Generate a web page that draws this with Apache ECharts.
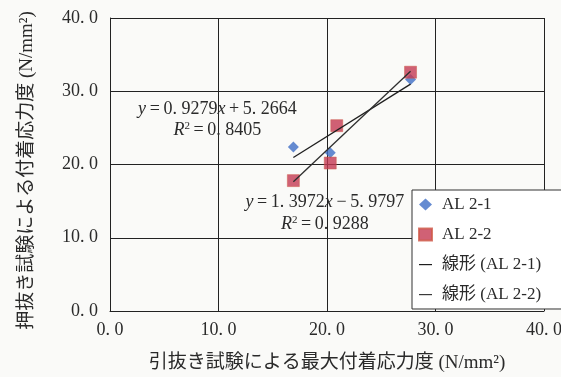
<!DOCTYPE html>
<html>
<head>
<meta charset="utf-8">
<script src="https://cdn.jsdelivr.net/npm/echarts@6/dist/echarts.min.js"></script>
<style>
  html, body { margin: 0; padding: 0; background: #fafaf8; }
  #chart { width: 561px; height: 377px; }
</style>
</head>
<body>
<div id="chart"></div>
<script>
// Pull-out test max bond stress (x) vs push-out test bond stress (y), N/mm²
const seriesNames = ['AL 2-1', 'AL 2-2', '線形 (AL 2-1)', '線形 (AL 2-2)'];
const al21X = [16.9, 20.3, 27.7];
const al21Y = [22.4, 21.6, 31.6];
const al22X = [16.9, 20.3, 20.9, 27.7];
const al22Y = [17.8, 20.2, 25.3, 32.6];
// Linear fits: slope, intercept, R²
const fit1 = { a: 0.9279, b: 5.2664, r2: '0. 8405', aText: '0. 9279', bText: '5. 2664', op: '+' };
const fit2 = { a: 1.3972, b: -5.9797, r2: '0. 9288', aText: '1. 3972', bText: '5. 9797', op: '−' };

const SERIF = '"Liberation Serif", "DejaVu Serif", "Noto Sans CJK JP", serif';
const TEXT = '#2a2a2a';
const HS = '\u2009';

function pairs(xs, ys) { return xs.map((x, i) => [x, ys[i]]); }
function fitLine(xs, f) {
  const lo = Math.min(...xs), hi = Math.max(...xs);
  return [[lo, f.a * lo + f.b], [hi, f.a * hi + f.b]];
}
function fmt(v) { return v.toFixed(1).replace('.', '. '); }

const chart = echarts.init(document.getElementById('chart'), null, { renderer: 'canvas' });

const eqRich = {
  i: { fontFamily: SERIF, fontStyle: 'italic', fontSize: 18, fill: TEXT },
  n: { fontFamily: SERIF, fontSize: 18, fill: TEXT },
  s: { fontFamily: SERIF, fontSize: 11, fill: TEXT, verticalAlign: 'top', padding: [0, 0, 8, 0] }
};
function eqText(f) {
  return '{i|y}{n|' + HS + '=' + HS + f.aText + '}{i|x}{n|' + HS + f.op + HS + f.bText + '}';
}
function r2Text(f) {
  return '{i|R}{s|2}{n|' + HS + '=' + HS + f.r2 + '}';
}

// Legend icon for fit lines: a thin dash inside a square box
const dashIcon = 'path://M0,0M13,12M0,5.5H13V6.7H0Z';

chart.setOption({
  backgroundColor: '#fafaf8',
  animation: false,
  grid: { left: 110, right: 17, top: 18, bottom: 66, outerBoundsMode: 'none', containLabel: false },
  xAxis: {
    type: 'value', min: 0, max: 40, interval: 10,
    name: '引抜き試験による最大付着応力度 (N/mm²)',
    nameLocation: 'middle', nameGap: 43,
    nameTextStyle: { fontFamily: SERIF, fontSize: 19, color: TEXT },
    axisLine: { show: true, lineStyle: { color: '#222', width: 1 } },
    axisTick: { show: false },
    axisLabel: { fontFamily: SERIF, fontSize: 18, color: TEXT, margin: 10, formatter: fmt },
    splitLine: { show: true, lineStyle: { color: '#222', width: 1 } }
  },
  yAxis: {
    type: 'value', min: 0, max: 40, interval: 10,
    name: '押抜き試験による付着応力度 (N/mm²)',
    nameLocation: 'middle', nameGap: 73,
    nameTextStyle: { fontFamily: SERIF, fontSize: 19, color: TEXT, padding: [0, 12, 0, 0] },
    axisLine: { show: true, lineStyle: { color: '#222', width: 1 } },
    axisTick: { show: false },
    axisLabel: { fontFamily: SERIF, fontSize: 18, color: TEXT, margin: 12, formatter: fmt },
    splitLine: { show: true, lineStyle: { color: '#222', width: 1 } }
  },
  legend: {
    orient: 'vertical',
    left: 412, top: 190,
    width: 160,
    padding: [6, 30, 6, 6],
    itemGap: 13,
    itemWidth: 13, itemHeight: 12,
    backgroundColor: '#ffffff',
    borderColor: '#333', borderWidth: 1,
    textStyle: { fontFamily: SERIF, fontSize: 17, color: TEXT, padding: [0, 0, 0, 5] },
    data: [
      { name: seriesNames[0] },
      { name: seriesNames[1] },
      { name: seriesNames[2], icon: dashIcon, itemStyle: { color: '#1e1e1e' } },
      { name: seriesNames[3], icon: dashIcon, itemStyle: { color: '#3a3a3a' } }
    ]
  },
  series: [
    {
      name: seriesNames[0], type: 'scatter', symbol: 'diamond', symbolSize: 11,
      itemStyle: { color: '#3f6ec6' },
      data: pairs(al21X, al21Y), z: 2
    },
    {
      name: seriesNames[1], type: 'scatter', symbol: 'rect', symbolSize: 12,
      itemStyle: { color: '#c43a52', borderColor: '#cf5a48', borderWidth: 0.6 },
      data: pairs(al22X, al22Y), z: 3
    },
    {
      name: seriesNames[2], type: 'line', symbol: 'none',
      lineStyle: { color: '#1e1e1e', width: 1.3 },
      itemStyle: { color: '#1e1e1e' },
      data: fitLine(al21X, fit1), z: 4
    },
    {
      name: seriesNames[3], type: 'line', symbol: 'none',
      lineStyle: { color: '#2e2e2e', width: 1.3 },
      itemStyle: { color: '#3a3a3a' },
      data: fitLine(al22X, fit2), z: 4
    }
  ]
});

// Regression equations placed in data coordinates
function place(dx, dy) { return chart.convertToPixel({ gridIndex: 0 }, [dx, dy]); }
const e1 = place(9.9, 27.5), r1 = place(9.9, 24.7);
const e2 = place(19.8, 14.8), r2 = place(19.8, 11.9);
chart.setOption({
  graphic: [
    { type: 'text', x: e1[0], y: e1[1], z: 10,
      style: { text: eqText(fit1), rich: eqRich, align: 'center', verticalAlign: 'middle' } },
    { type: 'text', x: r1[0], y: r1[1], z: 10,
      style: { text: r2Text(fit1), rich: eqRich, align: 'center', verticalAlign: 'middle' } },
    { type: 'text', x: e2[0], y: e2[1], z: 10,
      style: { text: eqText(fit2), rich: eqRich, align: 'center', verticalAlign: 'middle' } },
    { type: 'text', x: r2[0], y: r2[1], z: 10,
      style: { text: r2Text(fit2), rich: eqRich, align: 'center', verticalAlign: 'middle' } }
  ]
});
</script>
</body>
</html>
